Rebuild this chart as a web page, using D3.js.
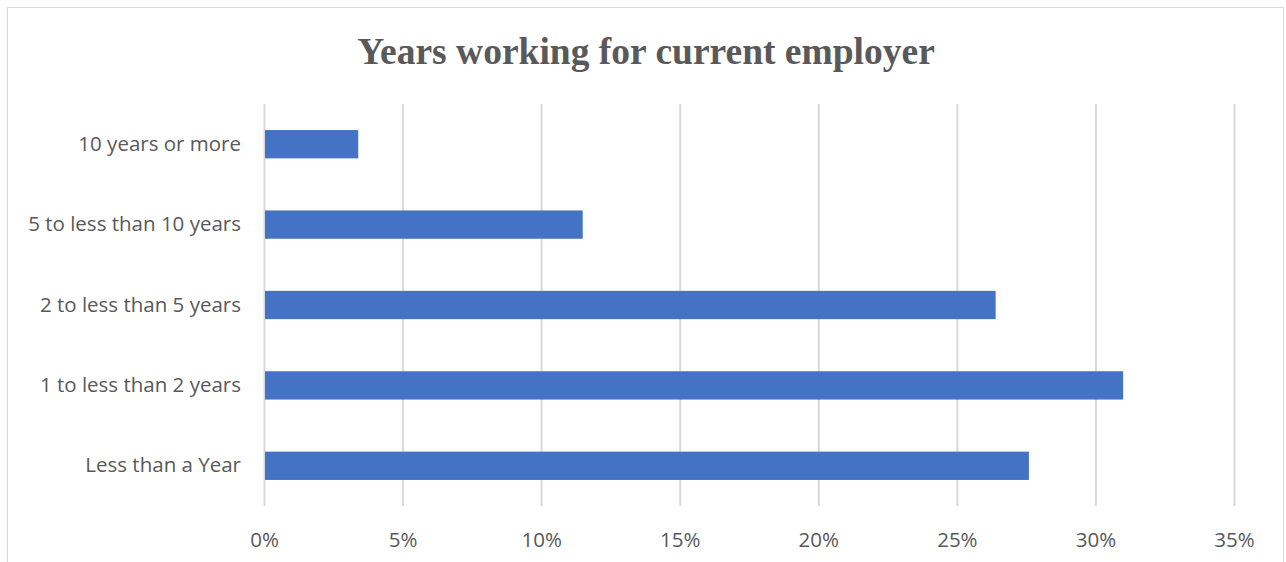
<!DOCTYPE html>
<html>
<head>
<meta charset="utf-8">
<script src="https://cdn.jsdelivr.net/npm/d3@7"></script>
<style>
  body { margin: 0; background: #fff; }
</style>
</head>
<body>
<div id="chart"></div>
<script>
// Data
const categories = ["10 years or more", "5 to less than 10 years", "2 to less than 5 years", "1 to less than 2 years", "Less than a Year"];
const shares = [3.4, 11.5, 26.4, 31.0, 27.6];
const tickValues = [0, 5, 10, 15, 20, 25, 30, 35];

const width = 1286;
const height = 562;
const marginTop = 104;
const marginBottom = 56;
const marginLeft = 264;
const marginRight = 52;

const svg = d3.select("#chart").append("svg")
    .attr("width", width)
    .attr("height", height);

// chart frame
svg.append("rect")
    .attr("x", 7.5).attr("y", 7.5)
    .attr("width", 1276).attr("height", 570)
    .attr("fill", "none")
    .attr("stroke", "#d9d9d9");

const xscale = d3.scaleLinear()
    .domain([0, 35])
    .range([marginLeft, width - marginRight]);

const yscale = d3.scaleBand()
    .domain(categories)
    .range([marginTop, height - marginBottom])
    .paddingInner(0.648)
    .paddingOuter(0.324);

// gridlines
svg.append("g")
    .selectAll("line")
    .data(tickValues)
    .join("line")
    .attr("x1", d => xscale(d) + 0.5)
    .attr("x2", d => xscale(d) + 0.5)
    .attr("y1", marginTop)
    .attr("y2", height - marginBottom)
    .attr("stroke", "#d9d9d9")
    .attr("stroke-width", 2);

// bars
svg.append("g")
    .selectAll("rect")
    .data(categories)
    .join("rect")
    .attr("x", xscale(0) + 1)
    .attr("y", d => yscale(d))
    .attr("width", (d, i) => xscale(shares[i]) - xscale(0) - 1)
    .attr("height", yscale.bandwidth())
    .attr("fill", "#4472c4");

// x axis labels
const xAxis = svg.append("g")
    .attr("transform", `translate(0, ${height - marginBottom})`)
    .call(d3.axisBottom(xscale).tickValues(tickValues).tickFormat(d => d + "%").tickSize(0).tickPadding(26));
xAxis.select(".domain").remove();
xAxis.selectAll("text")
    .attr("font-family", "Open Sans, sans-serif")
    .attr("font-size", 20.5)
    .attr("fill", "#595959");

// y axis labels
const yAxis = svg.append("g")
    .attr("transform", `translate(${marginLeft}, 0)`)
    .call(d3.axisLeft(yscale).tickSize(0).tickPadding(23));
yAxis.select(".domain").remove();
yAxis.selectAll("text")
    .attr("font-family", "Open Sans, sans-serif")
    .attr("font-size", 20.5)
    .attr("fill", "#595959");

// title
svg.append("text")
    .attr("x", 646)
    .attr("y", 64)
    .attr("text-anchor", "middle")
    .attr("font-family", "Liberation Serif, Times New Roman, serif")
    .attr("font-weight", "bold")
    .attr("font-size", 37.5)
    .attr("fill", "#595959")
    .text("Years working for current employer");
</script>
</body>
</html>
